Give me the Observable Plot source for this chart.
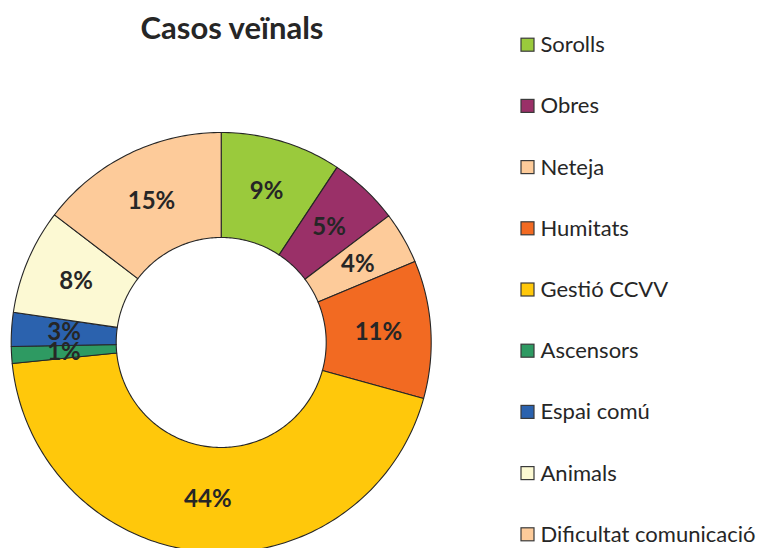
<!DOCTYPE html>
<html>
<head>
<meta charset="utf-8">
<script src="https://cdn.jsdelivr.net/npm/d3@7"></script>
<script src="https://cdn.jsdelivr.net/npm/@observablehq/plot@0.6"></script>
<style>
  html, body { margin: 0; padding: 0; background: #fff; }
  #chart { width: 758px; height: 548px; }
</style>
</head>
<body>
<div id="chart"></div>
<script>
const title = "Casos veïnals";
const categories = ["Sorolls", "Obres", "Neteja", "Humitats", "Gestió CCVV", "Ascensors", "Espai comú", "Animals", "Dificultat comunicació"];
const values = [9.3, 5.4, 4.0, 10.6, 44.1, 1.3, 2.6, 8.1, 14.6];
const labels = ["9%", "5%", "4%", "11%", "44%", "1%", "3%", "8%", "15%"];
const colors = ["#9ACA3C", "#9A3068", "#FDCB9A", "#F26A22", "#FFC80B", "#2E9A62", "#2B62AE", "#FCF9D3", "#FDCB9A"];

const W = 758, H = 548;
const cx = 220.7, cy = 342, rOuter = 210, rInner = 105;
const font = "Lato, 'Open Sans', sans-serif";
const ink = "#262626";

const arcs = d3.pie().sort(null).value(d => d)(values);
const pt = (r, a) => [cx + r * Math.sin(a), cy - r * Math.cos(a)];

// polygon vertices for each slice, derived from the pie angles
const poly = [];
arcs.forEach((a, i) => {
  const n = Math.max(2, Math.ceil((a.endAngle - a.startAngle) / (Math.PI * 2) * 360));
  const pts = [];
  for (let k = 0; k <= n; k++) pts.push(pt(rOuter, a.startAngle + (a.endAngle - a.startAngle) * k / n));
  for (let k = n; k >= 0; k--) pts.push(pt(rInner, a.startAngle + (a.endAngle - a.startAngle) * k / n));
  pts.push(pts[0]);
  pts.forEach(([x, y]) => poly.push({name: categories[i], x, y}));
});

const sliceLabels = arcs.map((a, i) => {
  const [x, y] = pt((rOuter + rInner) / 2, (a.startAngle + a.endAngle) / 2);
  return {label: labels[i], x, y};
});

const legendX = 521, legendY0 = 44.7, legendStep = 61.2, sq = 13;
const legend = categories.map((c, i) => ({name: c, y: legendY0 + i * legendStep}));

const chart = Plot.plot({
  width: W, height: H,
  margin: 0,
  x: {domain: [0, W], range: [0, W], axis: null},
  y: {domain: [0, H], range: [0, H], axis: null},
  color: {domain: categories, range: colors},
  style: {background: "#fff"},
  marks: [
    Plot.line(poly, {x: "x", y: "y", z: "name", fill: "name", stroke: ink, strokeWidth: 1.1, curve: "linear"}),
    Plot.text(sliceLabels, {x: "x", y: "y", text: "label", fontFamily: font, fontWeight: "bold", fontSize: 24, fill: ink, textAnchor: "middle", lineAnchor: "middle"}),
    Plot.text([title], {x: 231.5, y: 29, text: d => d, fontFamily: font, fontWeight: "bold", fontSize: 31, fill: ink, textAnchor: "middle", lineAnchor: "middle"}),
    Plot.rect(legend, {x1: legendX, x2: legendX + sq, y1: d => d.y - sq / 2, y2: d => d.y + sq / 2, fill: "name", stroke: "#3a3a3a", strokeWidth: 1.2}),
    Plot.text(legend, {x: legendX + sq + 6, y: "y", text: "name", fontFamily: font, fontSize: 22, fill: ink, textAnchor: "start", lineAnchor: "middle"})
  ]
});
document.getElementById("chart").appendChild(chart);
</script>
</body>
</html>
